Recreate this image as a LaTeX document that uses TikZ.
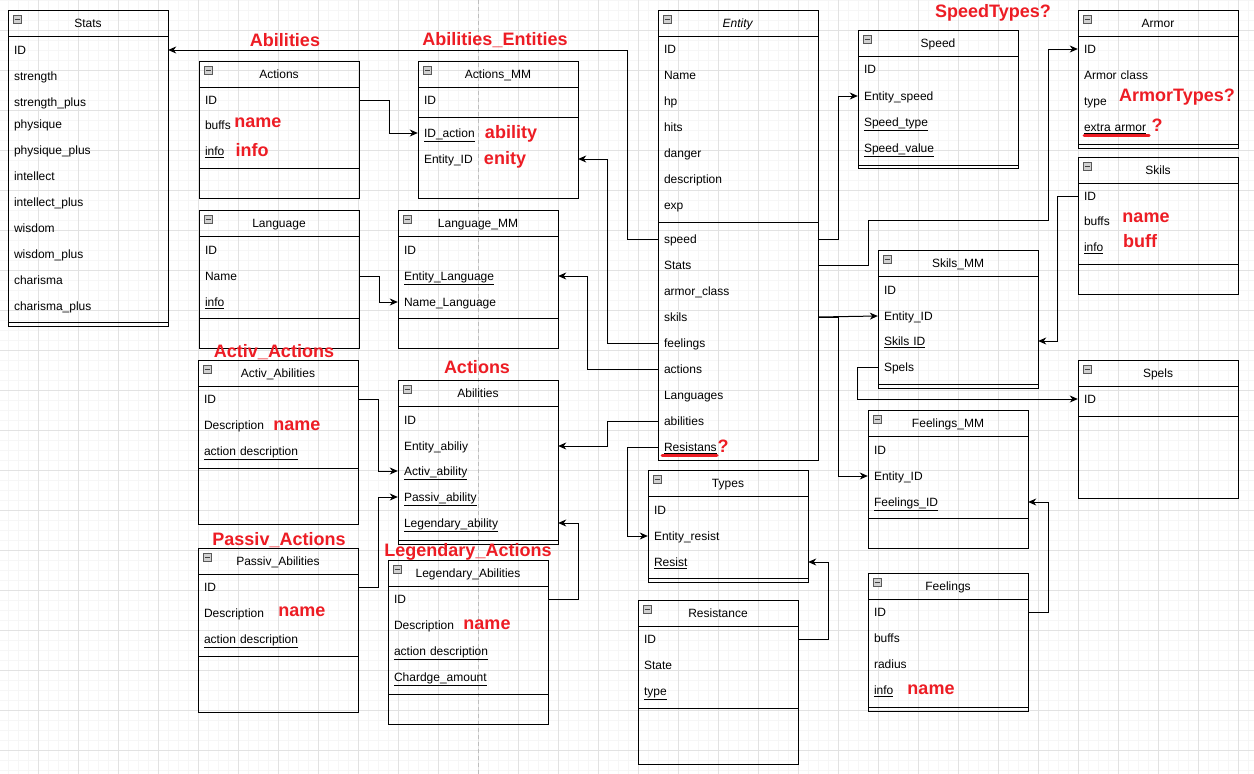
\documentclass[tikz,border=0pt]{standalone}
\usepackage{fontspec}
\setmainfont{Liberation Sans}
\usetikzlibrary{arrows.meta}
\definecolor{redc}{RGB}{237,28,36}
\definecolor{gridmaj}{RGB}{226,226,226}
\definecolor{gridmin}{RGB}{246,246,246}
\definecolor{dashc}{RGB}{190,190,190}
\newcommand{\fsz}{\fontsize{12}{14}\selectfont}
\tikzset{
  boxline/.style={line width=1pt, draw=black},
  frame/.style={draw=black, line width=1pt, minimum width=160pt, inner sep=0pt},
  titletxt/.style={font=\fsz, inner sep=0pt, text height=10.5pt, text depth=1.5pt},
  fieldrow/.style={font=\fsz, text width=148pt, inner xsep=6pt, inner ysep=0pt, minimum height=26pt, text height=10.5pt, text depth=1.5pt, align=left},
  iconbox/.style={draw=black!65, fill=black!18, minimum size=8pt, inner sep=0pt, line width=0.7pt},
  iconminus/.style={line width=0.9pt, draw=black!75},
  conn/.style={line width=1pt, -{Stealth[length=8pt,width=7pt,inset=2.5pt]}},
  redlbl/.style={text=redc, font=\bfseries\fontsize{18}{20}\selectfont, inner sep=0pt},
  redline/.style={draw=redc, line width=3pt, line cap=round},
  gmin/.style={draw=gridmin, line width=0.8pt},
  gmaj/.style={draw=gridmaj, line width=1pt},
}
% #1 name, #2 left, #3 top, #4 separator y, #5 bottom, #6 title
\newcommand{\tbox}[6]{%
  \node[frame, minimum height={#5-#3}, anchor=north west] (#1) at (#2,#3) {};
  \draw[boxline] (#2,#3+26) -- (#2+160,#3+26);
  \draw[boxline] (#2,#4) -- (#2+160,#4);
  \node[titletxt] (#1-t) at (#2+80,#3+13) {#6};
  \node[iconbox] (#1-i) at (#2+9,#3+9) {};
  \draw[iconminus] (#2+6.5,#3+9) -- (#2+11.5,#3+9);
}
\newcommand{\fld}[4]{\node[fieldrow] (#1) at (#2+80,#3) {#4};}
\begin{document}
\begin{tikzpicture}[x=1pt,y=-1pt]
\useasboundingbox (0,0) rectangle (1254,774);
\fill[white] (0,0) rectangle (1254,774);
% grid
\foreach \i in {-2,8,...,1254} \draw[gmin] (\i,0) -- (\i,774);
\foreach \j in {0,10,...,774} \draw[gmin] (0,\j) -- (1254,\j);
\foreach \i in {-2,38,...,1254} \draw[gmaj] (\i,0) -- (\i,774);
\foreach \j in {-10,30,...,774} \draw[gmaj] (0,\j) -- (1254,\j);
\draw[dashc, dashed, line width=0.8pt, dash pattern=on 4pt off 3pt] (478,0) -- (478,774);

% ---------- Stats
\tbox{stats}{8}{10}{322}{326}{Stats}
\fld{stats-id}{8}{50}{ID}
\fld{stats-str}{8}{76}{strength}
\fld{stats-strp}{8}{102}{strength\_plus}
\fld{stats-phy}{8}{124}{physique}
\fld{stats-phyp}{8}{150}{physique\_plus}
\fld{stats-int}{8}{176}{intellect}
\fld{stats-intp}{8}{202}{intellect\_plus}
\fld{stats-wis}{8}{228}{wisdom}
\fld{stats-wisp}{8}{254}{wisdom\_plus}
\fld{stats-cha}{8}{280}{charisma}
\fld{stats-chap}{8}{306}{charisma\_plus}

% ---------- Actions
\tbox{act}{199}{61}{168}{198}{Actions}
\fld{act-id}{199}{100}{ID}
\fld{act-buffs}{199}{125}{buffs}
\fld{act-info}{199}{151}{\underline{info}}

% ---------- Actions_MM
\tbox{amm}{418}{61}{117}{198}{Actions\_MM}
\fld{amm-id}{418}{100}{ID}
\fld{amm-action}{418}{133}{\underline{ID\_action}}
\fld{amm-entity}{418}{159}{Entity\_ID}

% ---------- Language
\tbox{lng}{199}{210}{318}{348}{Language}
\fld{lng-id}{199}{250}{ID}
\fld{lng-name}{199}{276}{Name}
\fld{lng-info}{199}{302}{\underline{info}}

% ---------- Language_MM
\tbox{lmm}{398}{210}{318}{348}{Language\_MM}
\fld{lmm-id}{398}{250}{ID}
\fld{lmm-entity}{398}{276}{\underline{Entity\_Language}}
\fld{lmm-name}{398}{302}{Name\_Language}

% ---------- Entity
\tbox{ent}{658}{10}{222}{460}{\textit{Entity}}
\fld{ent-id}{658}{49}{ID}
\fld{ent-name}{658}{75}{Name}
\fld{ent-hp}{658}{101}{hp}
\fld{ent-hits}{658}{127}{hits}
\fld{ent-danger}{658}{153}{danger}
\fld{ent-desc}{658}{179}{description}
\fld{ent-exp}{658}{205}{exp}
\fld{ent-speed}{658}{239}{speed}
\fld{ent-stats}{658}{265}{Stats}
\fld{ent-armor}{658}{291}{armor\_class}
\fld{ent-skils}{658}{317}{skils}
\fld{ent-feelings}{658}{343}{feelings}
\fld{ent-actions}{658}{369}{actions}
\fld{ent-lang}{658}{395}{Languages}
\fld{ent-abilities}{658}{421}{abilities}
\fld{ent-resist}{658}{447}{\underline{Resistans}}

% ---------- Speed
\tbox{spd}{858}{30}{165}{168}{Speed}
\fld{spd-id}{858}{69}{ID}
\fld{spd-entity}{858}{96}{Entity\_speed}
\fld{spd-type}{858}{122}{\underline{Speed\_type}}
\fld{spd-value}{858}{148}{\underline{Speed\_value}}

% ---------- Armor
\tbox{arm}{1078}{10}{144}{148}{Armor}
\fld{arm-id}{1078}{49}{ID}
\fld{arm-class}{1078}{75}{Armor class}
\fld{arm-type}{1078}{101}{type}
\fld{arm-extra}{1078}{127}{\underline{extra armor}}

% ---------- Skils
\tbox{skl}{1078}{157}{264}{294}{Skils}
\fld{skl-id}{1078}{196}{ID}
\fld{skl-buffs}{1078}{221}{buffs}
\fld{skl-info}{1078}{247}{\underline{info}}

% ---------- Skils_MM
\tbox{skm}{878}{250}{384}{388}{Skils\_MM}
\fld{skm-id}{878}{290}{ID}
\fld{skm-entity}{878}{316}{Entity\_ID}
\fld{skm-skils}{878}{341}{\underline{Skils ID}}
\fld{skm-spels}{878}{367}{Spels}

% ---------- Spels
\tbox{spl}{1078}{360}{416}{498}{Spels}
\fld{spl-id}{1078}{399}{ID}

% ---------- Feelings_MM
\tbox{fmm}{868}{410}{518}{548}{Feelings\_MM}
\fld{fmm-id}{868}{450}{ID}
\fld{fmm-entity}{868}{476}{Entity\_ID}
\fld{fmm-feel}{868}{502}{\underline{Feelings\_ID}}

% ---------- Feelings
\tbox{fel}{868}{573}{707}{711}{Feelings}
\fld{fel-id}{868}{612}{ID}
\fld{fel-buffs}{868}{638}{buffs}
\fld{fel-radius}{868}{664}{radius}
\fld{fel-info}{868}{690}{\underline{info}}

% ---------- Types
\tbox{typ}{648}{470}{578}{582}{Types}
\fld{typ-id}{648}{510}{ID}
\fld{typ-entity}{648}{536}{Entity\_resist}
\fld{typ-resist}{648}{562}{\underline{Resist}}

% ---------- Resistance
\tbox{res}{638}{600}{708}{764}{Resistance}
\fld{res-id}{638}{639}{ID}
\fld{res-state}{638}{665}{State}
\fld{res-type}{638}{691}{\underline{type}}

% ---------- Activ_Abilities
\tbox{aab}{198}{360}{468}{524}{Activ\_Abilities}
\fld{aab-id}{198}{399}{ID}
\fld{aab-desc}{198}{425}{Description}
\fld{aab-adesc}{198}{451}{\underline{action description}}

% ---------- Abilities
\tbox{abl}{398}{380}{540}{544}{Abilities}
\fld{abl-id}{398}{420}{ID}
\fld{abl-entity}{398}{446}{Entity\_abiliy}
\fld{abl-activ}{398}{471}{\underline{Activ\_ability}}
\fld{abl-passiv}{398}{497}{\underline{Passiv\_ability}}
\fld{abl-legend}{398}{523}{\underline{Legendary\_ability}}

% ---------- Passiv_Abilities
\tbox{pab}{198}{548}{656}{712}{Passiv\_Abilities}
\fld{pab-id}{198}{587}{ID}
\fld{pab-desc}{198}{613}{Description}
\fld{pab-adesc}{198}{639}{\underline{action description}}

% ---------- Legendary_Abilities
\tbox{lab}{388}{560}{694}{724}{Legendary\_Abilities}
\fld{lab-id}{388}{599}{ID}
\fld{lab-desc}{388}{625}{Description}
\fld{lab-adesc}{388}{651}{\underline{action description}}
\fld{lab-charge}{388}{677}{\underline{Chardge\_amount}}

% ---------- connectors
\draw[conn] (ent-speed.west) -- ++(-30,0) |- (stats-id.east);
\draw[conn] (ent-feelings.west) -- ++(-50,0) |- (amm-entity.east);
\draw[conn] (ent-actions.west) -- ++(-70,0) |- (lmm-entity.east);
\draw[conn] (ent-abilities.west) -- ++(-50,0) |- (abl-entity.east);
\draw[conn] (ent-resist.west) -- ++(-30,0) |- (typ-entity.west);
\draw[conn] (ent-speed.east) -- ++(20,0) |- (spd-entity.west);
\draw[conn] (ent-stats.east) -| (868,220) -- (1048,220) |- (arm-id.west);
\draw[conn] (ent-skils.east) -- (skm-entity.west);
\draw[conn] (ent-skils.east) -- ++(20,0) |- (fmm-entity.west);
\draw[conn] (skl-id.west) -- ++(-20,0) |- (skm-skils.east);
\draw[conn] (skm-spels.west) -- ++(-20,0) |- (spl-id.west);
\draw[conn] (fel-id.east) -- ++(20,0) |- (fmm-feel.east);
\draw[conn] (res-id.east) -- ++(30,0) |- (typ-resist.east);
\draw[conn] (act-id.east) -- ++(30,0) |- (amm-action.west);
\draw[conn] (lng-name.east) -- ++(20,0) |- (lmm-name.west);
\draw[conn] (aab-id.east) -- ++(20,0) |- (abl-activ.west);
\draw[conn] (pab-id.east) -- ++(20,0) |- (abl-passiv.west);
\draw[conn] (lab-id.east) -- ++(30,0) |- (abl-legend.east);

% ---------- red annotations
\node[redlbl] (r-abil) at (285,40) {Abilities};
\node[redlbl] (r-abent) at (495,40) {Abilities\_Entities};
\node[redlbl] (r-spdt) at (993,13) {SpeedTypes?};
\node[redlbl] (r-armt) at (1177,97) {ArmorTypes?};
\node[redlbl] (r-armq) at (1157,125) {?};
\draw[redline] (1084,135) -- (1149,135);
\node[redlbl] (r-actname) at (258,123) {name};
\node[redlbl] (r-actinfo) at (252,150) {info};
\node[redlbl] (r-ability) at (511,134) {ability};
\node[redlbl] (r-enity) at (505,160) {enity};
\node[redlbl] (r-sklname) at (1146,218) {name};
\node[redlbl] (r-sklbuff) at (1140,241) {buff};
\node[redlbl] (r-activ) at (274,352) {Activ\_Actions};
\node[redlbl] (r-actions) at (477,367) {Actions};
\node[redlbl] (r-aabname) at (297,426) {name};
\node[redlbl] (r-passiv) at (279,540) {Passiv\_Actions};
\node[redlbl] (r-pabname) at (302,612) {name};
\node[redlbl] (r-legend) at (468,552) {Legendary\_Actions};
\node[redlbl] (r-labname) at (487,625) {name};
\node[redlbl] (r-felname) at (931,690) {name};
\node[redlbl] (r-resq) at (723,446) {?};
\draw[redline] (662,455) -- (717,455);
\end{tikzpicture}
\end{document}
